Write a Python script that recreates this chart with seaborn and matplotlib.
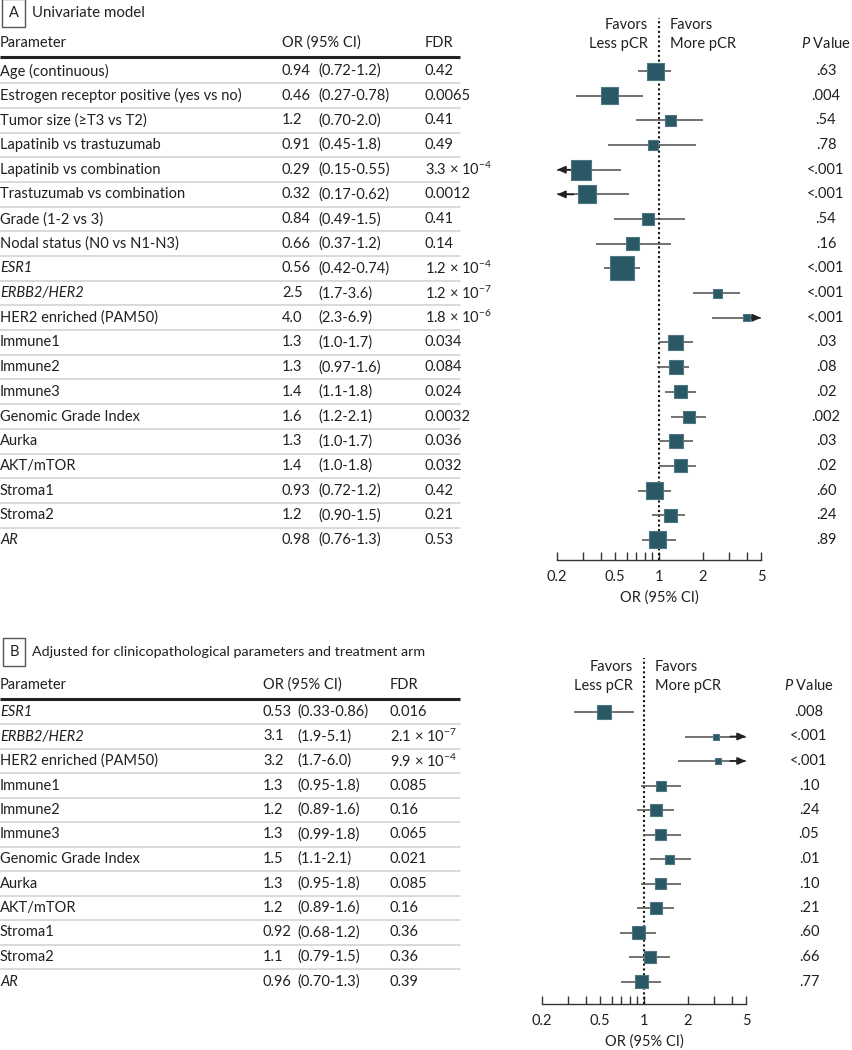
import numpy as np
import pandas as pd
import matplotlib
matplotlib.use('Agg')
import matplotlib.pyplot as plt
import seaborn as sns
from matplotlib.ticker import FixedLocator, NullFormatter

# ---------------------------------------------------------------
# Data: panel A (univariate)
# ---------------------------------------------------------------
params_a = ['Age (continuous)', 'Estrogen receptor positive (yes vs no)', 'Tumor size (≥T3 vs T2)',
            'Lapatinib vs trastuzumab', 'Lapatinib vs combination', 'Trastuzumab vs combination',
            'Grade (1-2 vs 3)', 'Nodal status (N0 vs N1-N3)', 'ESR1', 'ERBB2/HER2',
            'HER2 enriched (PAM50)', 'Immune1', 'Immune2', 'Immune3', 'Genomic Grade Index',
            'Aurka', 'AKT/mTOR', 'Stroma1', 'Stroma2', 'AR']
or_a = [0.94, 0.46, 1.2, 0.91, 0.29, 0.32, 0.84, 0.66, 0.56, 2.5, 4.0, 1.3, 1.3, 1.4, 1.6, 1.3, 1.4, 0.93, 1.2, 0.98]
lo_a = [0.72, 0.27, 0.70, 0.45, 0.15, 0.17, 0.49, 0.37, 0.42, 1.7, 2.3, 1.0, 0.97, 1.1, 1.2, 1.0, 1.0, 0.72, 0.90, 0.76]
hi_a = [1.2, 0.78, 2.0, 1.8, 0.55, 0.62, 1.5, 1.2, 0.74, 3.6, 6.9, 1.7, 1.6, 1.8, 2.1, 1.7, 1.8, 1.2, 1.5, 1.3]
fdr_a = ['0.42', '0.0065', '0.41', '0.49', r'3.3 × 10$^{-4}$', '0.0012', '0.41', '0.14',
         r'1.2 × 10$^{-4}$', r'1.2 × 10$^{-7}$', r'1.8 × 10$^{-6}$', '0.034', '0.084', '0.024',
         '0.0032', '0.036', '0.032', '0.42', '0.21', '0.53']
p_a = ['.63', '.004', '.54', '.78', '<.001', '<.001', '.54', '.16', '<.001', '<.001', '<.001',
       '.03', '.08', '.02', '.002', '.03', '.02', '.60', '.24', '.89']
weight_a = [17, 17, 11, 10, 20, 18, 12, 13, 24, 9, 7, 15, 14, 13, 12, 14, 13, 17, 13, 17]

# ---------------------------------------------------------------
# Data: panel B (adjusted)
# ---------------------------------------------------------------
params_b = ['ESR1', 'ERBB2/HER2', 'HER2 enriched (PAM50)', 'Immune1', 'Immune2', 'Immune3',
            'Genomic Grade Index', 'Aurka', 'AKT/mTOR', 'Stroma1', 'Stroma2', 'AR']
or_b = [0.53, 3.1, 3.2, 1.3, 1.2, 1.3, 1.5, 1.3, 1.2, 0.92, 1.1, 0.96]
lo_b = [0.33, 1.9, 1.7, 0.95, 0.89, 0.99, 1.1, 0.95, 0.89, 0.68, 0.79, 0.70]
hi_b = [0.86, 5.1, 6.0, 1.8, 1.6, 1.8, 2.1, 1.8, 1.6, 1.2, 1.5, 1.3]
fdr_b = ['0.016', r'2.1 × 10$^{-7}$', r'9.9 × 10$^{-4}$', '0.085', '0.16', '0.065', '0.021',
         '0.085', '0.16', '0.36', '0.36', '0.39']
p_b = ['.008', '<.001', '<.001', '.10', '.24', '.05', '.01', '.10', '.21', '.60', '.66', '.77']
weight_b = [14, 6, 6, 10, 12, 11, 9, 11, 12, 13, 12, 13]

italic_names = ['ESR1', 'ERBB2/HER2', 'AR']
major_ticks = [0.2, 0.5, 1, 2, 5]
minor_ticks = [0.3, 0.4, 0.6, 0.7, 0.8, 0.9, 3, 4]

W, H = 853, 1050
TXT = '#231f20'
SQ = '#2b5865'
CI_COL = '#5a5a5a'

sns.set_style('white')
plt.rcParams['font.family'] = ['Lato', 'DejaVu Sans']
plt.rcParams['mathtext.fontset'] = 'custom'
plt.rcParams['mathtext.rm'] = 'Lato'
plt.rcParams['mathtext.it'] = 'Lato:italic'
FS = 10.5
ARROW = dict(arrowstyle='-|>,head_length=0.5,head_width=0.22', color='#222222',
             lw=1.2, mutation_scale=10, shrinkA=0, shrinkB=0)


def fmt(v):
    return f'{v:.2f}' if v < 1 else f'{v:.1f}'


fig = plt.figure(figsize=(W / 100, H / 100), dpi=100)
bg = fig.add_axes([0, 0, 1, 1])
bg.set_xlim(0, W)
bg.set_ylim(H, 0)
bg.axis('off')


def panel(letter, title, names, ors, los, his, fdrs, ps, weights, lay):
    y_title, y_head, y0, step = lay['title'], lay['head'], lay['row0'], lay['step']
    # panel label box + title
    bg.text(14, y_title, letter, ha='center', va='center', fontsize=FS, color=TXT,
            bbox=dict(boxstyle='square,pad=0.45', fc='white', ec='#555555', lw=1))
    bg.text(32, y_title, title, ha='left', va='center', fontsize=lay['title_fs'], color=TXT)
    # table header
    bg.text(0, y_head, 'Parameter', ha='left', va='center', fontsize=FS, color=TXT)
    bg.text(lay['x_or'], y_head, 'OR (95% CI)', ha='left', va='center', fontsize=FS, color=TXT)
    bg.text(lay['x_fdr'], y_head, 'FDR', ha='left', va='center', fontsize=FS, color=TXT)
    bg.plot([0, 460], [y_head + 14, y_head + 14], color='#222222', lw=2.2, solid_capstyle='butt')
    n = len(names)
    for i in range(n):
        y = y0 + i * step
        style = 'italic' if names[i] in italic_names else 'normal'
        bg.text(0, y, names[i], ha='left', va='center', fontsize=FS, color=TXT, style=style)
        bg.text(lay['x_or'], y, fmt(ors[i]), ha='left', va='center', fontsize=FS, color=TXT)
        bg.text(lay['x_ci'], y, f'({fmt(los[i])}-{fmt(his[i])})', ha='left', va='center',
                fontsize=FS, color=TXT)
        bg.text(lay['x_fdr'], y, fdrs[i], ha='left', va='center', fontsize=FS, color=TXT)
        bg.text(lay['x_p'], y, ps[i], ha='center', va='center', fontsize=FS, color=TXT)
        if i < n - 1:
            bg.plot([0, 460], [y + step / 2, y + step / 2], color='#cfcfcf', lw=1.1)

    # header over forest plot
    x1 = lay['x_one']
    bg.text(x1 - 11, y_head - 18, 'Favors', ha='right', va='center', fontsize=FS, color=TXT)
    bg.text(x1 - 11, y_head + 1, 'Less pCR', ha='right', va='center', fontsize=FS, color=TXT)
    bg.text(x1 + 11, y_head - 18, 'Favors', ha='left', va='center', fontsize=FS, color=TXT)
    bg.text(x1 + 11, y_head + 1, 'More pCR', ha='left', va='center', fontsize=FS, color=TXT)
    bg.text(lay['x_p'], y_head, r'$\mathit{P}$ Value', ha='center', va='center', fontsize=FS, color=TXT)

    # forest axes, positioned in pixels
    px_dec = 146.0
    left = x1 - px_dec * np.log10(5)
    right = x1 + px_dec * np.log10(5)
    top, bot = lay['ax_top'], lay['ax_bot']
    ax = fig.add_axes([left / W, 1 - bot / H, (right - left) / W, (bot - top) / H])
    ax.patch.set_alpha(0)
    ax.set_xscale('log')
    ax.set_xlim(0.2, 5)
    ax.set_ylim((bot - y0) / step, (top - y0) / step)

    df = pd.DataFrame({'name': names, 'or': ors, 'lo': los, 'hi': his,
                       'row': np.arange(n), 'w': weights})
    xa = df['lo'].clip(lower=0.2)
    xb = df['hi'].clip(upper=5)
    ax.hlines(df['row'], xa, xb, color=CI_COL, lw=1.2, zorder=2)
    for _, r in df.iterrows():
        if r['lo'] < 0.2:
            ax.annotate('', xy=(0.2, r['row']), xytext=(0.26, r['row']),
                        arrowprops=ARROW, annotation_clip=False)
        if r['hi'] > 5:
            ax.annotate('', xy=(5, r['row']), xytext=(3.9, r['row']),
                        arrowprops=ARROW, annotation_clip=False)
    sns.scatterplot(data=df, x='or', y='row', marker='s', s=(df['w'] * 0.72) ** 2,
                    color=SQ, edgecolor='#4d7884', linewidth=0.8, legend=False, ax=ax, zorder=3)
    ax.axvline(1, color='#111111', lw=1.5, ls=(0, (1, 1.3)), zorder=1)

    for s in ['left', 'right', 'top']:
        ax.spines[s].set_visible(False)
    ax.spines['bottom'].set_color('#333333')
    ax.spines['bottom'].set_linewidth(1)
    ax.xaxis.set_major_locator(FixedLocator(major_ticks))
    ax.xaxis.set_minor_locator(FixedLocator(minor_ticks))
    ax.xaxis.set_minor_formatter(NullFormatter())
    ax.set_xticklabels(['0.2', '0.5', '1', '2', '5'])
    ax.tick_params(axis='x', which='both', direction='in', length=5.5, width=1, color='#333333',
                   labelsize=FS, labelcolor=TXT, pad=7, bottom=True)
    ax.set_yticks([])
    ax.set_xlabel('OR (95% CI)', fontsize=FS, color=TXT, labelpad=5)
    ax.set_ylabel('')
    return ax


lay_a = dict(title=13, head=43, row0=71, step=24.68, x_or=282, x_ci=318, x_fdr=425,
             x_p=826, x_one=659, ax_top=18, ax_bot=560, title_fs=10.8)
lay_b = dict(title=652, head=685, row0=712, step=24.5, x_or=263, x_ci=297, x_fdr=390,
             x_p=809, x_one=644, ax_top=658, ax_bot=1004, title_fs=10.3)

panel('A', 'Univariate model', params_a, or_a, lo_a, hi_a, fdr_a, p_a, weight_a, lay_a)
panel('B', 'Adjusted for clinicopathological parameters and treatment arm',
      params_b, or_b, lo_b, hi_b, fdr_b, p_b, weight_b, lay_b)

fig.savefig('out.png', dpi=100)
